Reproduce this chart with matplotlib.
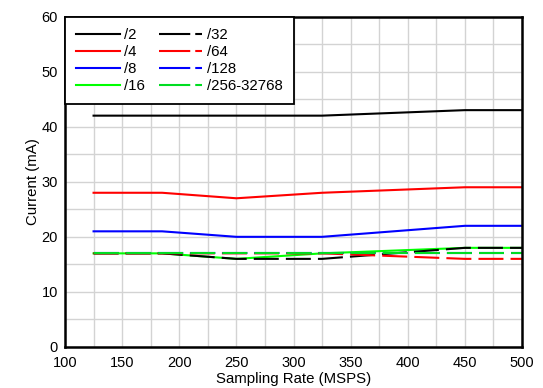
import matplotlib
matplotlib.use("Agg")
import matplotlib.pyplot as plt
from matplotlib.ticker import MultipleLocator
from matplotlib.lines import Line2D

plt.rcParams['font.family'] = ['Liberation Sans', 'DejaVu Sans']

rate = [125, 185, 250, 325, 450, 500]
d2 = [42, 42, 42, 42, 43, 43]
d4 = [28, 28, 27, 28, 29, 29]
d8 = [21, 21, 20, 20, 22, 22]
d16 = [17, 17, 16, 17, 18, 18]
d32 = [17, 17, 16, 16, 18, 18]
d64 = [17, 17, 17, 17, 16, 16]
d128 = [17, 17, 17, 17, 17, 17]
d256 = [17, 17, 17, 17, 17, 17]

W, H = 543, 388
fig = plt.figure(figsize=(W/100, H/100), dpi=100)
L, R, T, B = 65, 522, 16.5, 347
ax = fig.add_axes([L/W, 1-B/H, (R-L)/W, (B-T)/H])

lw = 1.5
dash = (0, (12, 3.4))
specs = [(d2, 'black', '-', '/2'), (d4, '#ff0000', '-', '/4'),
         (d8, '#0000ff', '-', '/8'), (d16, '#00ff00', '-', '/16'),
         (d32, 'black', dash, '/32'), (d64, '#ff0000', dash, '/64'),
         (d128, '#0000ff', dash, '/128'), (d256, '#00dd22', dash, '/256-32768')]
h = []
for y, c, ls, lab in specs:
    ln = ax.plot(rate, y, color=c, lw=lw, ls=ls, label=lab)[0]
    leg_ls = '-' if ls == '-' else (0, (15, 2.4))
    h.append(Line2D([], [], color=c, lw=lw, ls=leg_ls, label=lab))

ax.set_xlim(100, 500)
ax.set_ylim(0, 60)
ax.xaxis.set_major_locator(MultipleLocator(50))
ax.xaxis.set_minor_locator(MultipleLocator(25))
ax.yaxis.set_major_locator(MultipleLocator(10))
ax.yaxis.set_minor_locator(MultipleLocator(5))
ax.grid(True, which='both', color='#d3d3d3', lw=1.0)
ax.set_axisbelow(True)
ax.tick_params(which='both', length=0, labelsize=10.5)
ax.tick_params(axis='x', pad=6.5)
ax.tick_params(axis='y', pad=5)
for s in ax.spines.values():
    s.set_linewidth(1.8)
    s.set_color('black')
ax.set_xlabel('Sampling Rate (MSPS)', fontsize=10.8)
ax.xaxis.set_label_coords(0.5, -(371.5 - B) / (B - T))
ax.set_ylabel('Current (mA)', fontsize=10.8, labelpad=1.5)

leg = ax.legend(handles=h, ncol=2, loc='upper left', fontsize=10.8,
                frameon=True, fancybox=False, framealpha=1,
                edgecolor='black', borderaxespad=0.0, handlelength=2.9,
                labelspacing=0.2, columnspacing=0.9, handletextpad=0.3,
                borderpad=0.75)
leg.get_frame().set_linewidth(1.3)

fig.savefig('out.png', dpi=100)
